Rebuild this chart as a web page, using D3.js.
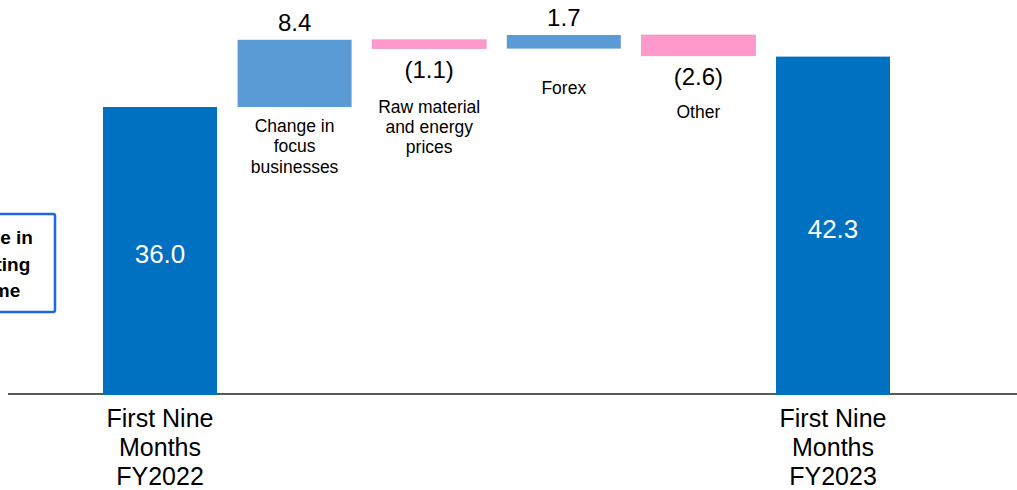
<!DOCTYPE html>
<html>
<head>
<meta charset="utf-8">
<script src="https://cdn.jsdelivr.net/npm/d3@7"></script>
<style>
  body { margin: 0; background: #fff; }
  svg { display: block; font-family: "Liberation Sans", Arial, sans-serif; }
</style>
</head>
<body>
<div id="chart"></div>
<script>
// data
const categories = ["FY2022", "focus", "raw", "forex", "other", "FY2023"];
const values = [36.0, 8.4, -1.1, 1.7, -2.6, 42.3];
const kinds = ["total", "delta", "delta", "delta", "delta", "total"];
const valueLabels = ["36.0", "8.4", "(1.1)", "1.7", "(2.6)", "42.3"];
const stepLabels = [null, ["Change in", "focus", "businesses"], ["Raw material", "and energy", "prices"], ["Forex"], ["Other"], null];
const axisLabels = [["First Nine", "Months", "FY2022"], null, null, null, null, ["First Nine", "Months", "FY2023"]];
const boxLines = ["Change in", "operating", "income"];

const width = 1017;
const height = 490;

const svg = d3.select("#chart").append("svg")
  .attr("width", width)
  .attr("height", height);

const x = d3.scaleBand()
  .domain(categories)
  .range([92.7, 900.3])
  .paddingInner(0.153)
  .paddingOuter(0.0765);

const y = d3.scaleLinear().domain([0, 49.375]).range([395, 0]);

// waterfall positions
let run = 0;
const bars = categories.map((c, i) => {
  let lo, hi;
  if (kinds[i] === "total") {
    lo = 0; hi = values[i]; run = values[i];
  } else {
    const start = run;
    run = run + values[i];
    lo = Math.min(start, run); hi = Math.max(start, run);
  }
  return { c, i, v: values[i], kind: kinds[i], lo, hi };
});

const colour = d => d.kind === "total" ? "#0070c0" : (d.v >= 0 ? "#5b9bd5" : "#ff99cc");

// baseline
svg.append("line")
  .attr("x1", 8).attr("x2", width)
  .attr("y1", 394).attr("y2", 394)
  .attr("stroke", "#595959")
  .attr("stroke-width", 2);

svg.append("g")
  .selectAll("rect")
  .data(bars)
  .join("rect")
  .attr("x", d => x(d.c))
  .attr("width", x.bandwidth())
  .attr("y", d => y(d.hi))
  .attr("height", d => y(d.lo) - y(d.hi))
  .attr("fill", colour)
  .attr("stroke", d => d.kind === "delta" && d.v < 0 ? "#e58fbd" : "none")
  .attr("stroke-width", 0.6);

// value labels
const vl = svg.append("g").attr("text-anchor", "middle");
bars.forEach(d => {
  const cx = x(d.c) + x.bandwidth() / 2;
  if (d.kind === "total") {
    vl.append("text").attr("x", cx).attr("y", (y(d.hi) + y(0)) / 2 + 12)
      .attr("fill", "#fff").attr("font-size", 26).text(valueLabels[d.i]);
  } else if (d.v >= 0) {
    vl.append("text").attr("x", cx).attr("y", y(d.hi) - 9)
      .attr("fill", "#000").attr("font-size", 24).text(valueLabels[d.i]);
  } else {
    vl.append("text").attr("x", cx).attr("y", y(d.lo) + 29)
      .attr("fill", "#000").attr("font-size", 24).text(valueLabels[d.i]);
  }
});

// step labels (gap below the bar bottom, placed as in the original slide)
const labelGap = [0, 25, 64, 45, 62, 0];
const sl = svg.append("g").attr("text-anchor", "middle").attr("font-size", 17.5).attr("fill", "#000");
bars.forEach(d => {
  const lines = stepLabels[d.i];
  if (!lines) return;
  const cx = x(d.c) + x.bandwidth() / 2;
  lines.forEach((t, k) => {
    sl.append("text").attr("x", cx).attr("y", y(d.lo) + labelGap[d.i] + k * 20.3).text(t);
  });
});

// axis labels
const al = svg.append("g").attr("text-anchor", "middle").attr("font-size", 25).attr("fill", "#000");
bars.forEach(d => {
  const lines = axisLabels[d.i];
  if (!lines) return;
  const cx = x(d.c) + x.bandwidth() / 2;
  lines.forEach((t, k) => {
    al.append("text").attr("x", cx).attr("y", 427 + k * 29).text(t);
  });
});

// callout box at the left edge (partly off the slide)
const box = svg.append("g");
box.append("rect")
  .attr("x", -80).attr("y", 214)
  .attr("width", 135).attr("height", 98)
  .attr("rx", 2)
  .attr("fill", "#fff")
  .attr("stroke", "#1f66e0")
  .attr("stroke-width", 2.5);
boxLines.forEach((t, k) => {
  box.append("text")
    .attr("x", -13).attr("y", 244 + k * 26.5)
    .attr("text-anchor", "middle")
    .attr("font-size", 19)
    .attr("font-weight", "bold")
    .text(t);
});
</script>
</body>
</html>
